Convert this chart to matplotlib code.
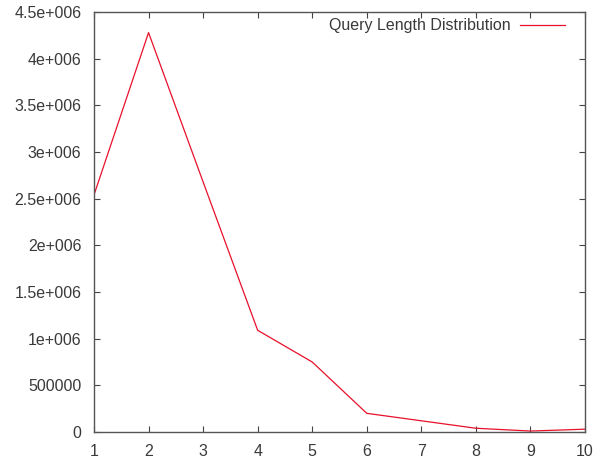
import matplotlib.pyplot as plt

query_len = [1, 2, 3, 4, 5, 6, 7, 8, 9, 10]
counts = [2540000, 4280000, 2680000, 1090000, 750000, 200000, 120000, 40000, 10000, 30000]

yticks = [0, 500000, 1000000, 1500000, 2000000, 2500000, 3000000, 3500000, 4000000, 4500000]
ylabels = ['0', '500000', '1e+006', '1.5e+006', '2e+006', '2.5e+006', '3e+006', '3.5e+006', '4e+006', '4.5e+006']

plt.rcParams['font.family'] = ['Liberation Sans', 'DejaVu Sans']
textcol = '#3a3a3a'

fig = plt.figure(figsize=(5.93, 4.65), dpi=100)
ax = fig.add_axes([0.1585, 0.071, 0.828, 0.903])
ax.plot(query_len, counts, color='#e8102a', lw=0.9, label='Query Length Distribution')

ax.set_xlim(1, 10)
ax.set_ylim(0, 4500000)
ax.set_xticks(query_len)
ax.set_yticks(yticks)
ax.set_yticklabels(ylabels)
ax.tick_params(direction='in', length=4, width=0.8, color='#444444',
               top=True, right=True, labelsize=11.5, labelcolor=textcol, pad=9)
for s in ax.spines.values():
    s.set_color('#555555')
    s.set_linewidth(1.0)

leg = ax.legend(loc='upper right', bbox_to_anchor=(0.972, 1.0), frameon=False,
                markerfirst=False, fontsize=11.5, handlelength=2.8,
                handletextpad=0.6, borderaxespad=0.0)
for t in leg.get_texts():
    t.set_color(textcol)

fig.savefig('out.png', dpi=100)
